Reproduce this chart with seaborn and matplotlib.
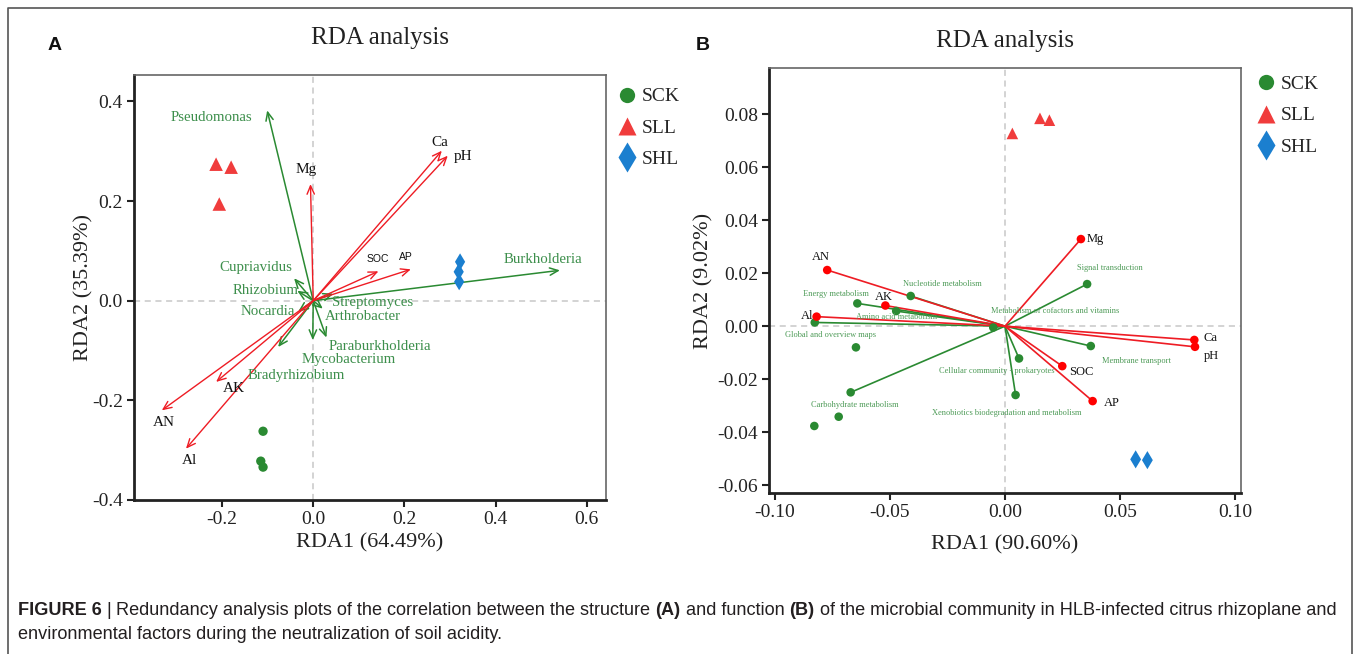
import numpy as np
import pandas as pd
import matplotlib
matplotlib.use("Agg")
import matplotlib.pyplot as plt
import seaborn as sns
from matplotlib.lines import Line2D
from matplotlib import font_manager

# ---------------- data ----------------
groups = ["SCK", "SLL", "SHL"]

# Panel A (community structure)
a_samp_group = ["SCK"] * 3 + ["SLL"] * 3 + ["SHL"] * 3
a_samp_x = [-0.110, -0.115, -0.110, -0.213, -0.180, -0.206, 0.322, 0.319, 0.320]
a_samp_y = [-0.262, -0.322, -0.334, 0.274, 0.268, 0.194, 0.078, 0.058, 0.038]

a_env_names = ["Ca", "pH", "Mg", "SOC", "AP", "AN", "AK", "Al"]
a_env_x = [0.282, 0.295, -0.006, 0.143, 0.214, -0.332, -0.213, -0.279]
a_env_y = [0.301, 0.291, 0.234, 0.059, 0.063, -0.220, -0.163, -0.297]

a_taxa_names = ["Pseudomonas", "Cupriavidus", "Rhizobium", "Nocardia", "Bradyrhizobium",
                "Mycobacterium", "Paraburkholderia", "Arthrobacter", "Streptomyces", "Burkholderia"]
a_taxa_x = [-0.101, -0.042, -0.035, -0.033, -0.077, -0.001, 0.029, 0.021, 0.044, 0.541]
a_taxa_y = [0.382, 0.045, 0.020, -0.022, -0.093, -0.079, -0.074, -0.016, 0.014, 0.061]

# Panel B (community function)
b_samp_group = ["SCK"] * 3 + ["SLL"] * 3 + ["SHL"] * 2
b_samp_x = [-0.0648, -0.0723, -0.0829, 0.0032, 0.0152, 0.0193, 0.0568, 0.0619]
b_samp_y = [-0.0080, -0.0342, -0.0377, 0.0728, 0.0785, 0.0778, -0.0503, -0.0506]

b_env_names = ["AN", "AK", "Al", "Mg", "SOC", "AP", "Ca", "pH"]
b_env_x = [-0.0773, -0.0520, -0.0819, 0.0330, 0.0249, 0.0381, 0.0823, 0.0826]
b_env_y = [0.0212, 0.0078, 0.0036, 0.0329, -0.0151, -0.0283, -0.0052, -0.0078]

b_func_names = ["Nucleotide metabolism", "Energy metabolism", "Amino acid metabolism",
                "Global and overview maps", "Carbohydrate metabolism",
                "Metabolism of cofactors and vitamins", "Signal transduction",
                "Membrane transport", "Cellular community - prokaryotes",
                "Xenobiotics biodegradation and metabolism"]
b_func_x = [-0.0410, -0.0642, -0.0473, -0.0827, -0.0671, -0.0051, 0.0357, 0.0373, 0.0061, 0.0046]
b_func_y = [0.0114, 0.0086, 0.0057, 0.0014, -0.0250, -0.0005, 0.0159, -0.0075, -0.0122, -0.0260]

# ---------------- layout / style ----------------
W, H = 1358, 654
SERIF = "Liberation Serif"
SANS = "Liberation Sans"
RED = "#ee1c24"
GREEN = "#2a8a32"
TXT_GREEN = "#3d8f4c"
palette = {"SCK": "#2a8a32", "SLL": "#f03c3c", "SHL": "#1b7fcf"}
markers = {"SCK": "o", "SLL": "^", "SHL": "d"}

# label offsets in pixels (dx, dy; dy positive = up)
a_env_off = {"Ca": (-2, 8), "pH": (15, -1), "Mg": (-4, 15), "SOC": (-1, 12), "AP": (-5, 12),
             "AN": (2, -12), "AK": (18, -7), "Al": (3, -12)}
a_taxa_off = {"Pseudomonas": (-56, -7), "Cupriavidus": (-38, 11), "Rhizobium": (-32, 0),
              "Nocardia": (-30, 0), "Bradyrhizobium": (18, -28), "Mycobacterium": (36, -19),
              "Paraburkholderia": (53, -9), "Arthrobacter": (40, -8), "Streptomyces": (39, -9),
              "Burkholderia": (-17, 11)}
b_env_off = {"AN": (-6, 13), "AK": (-2, 9), "Al": (-9, 1), "Mg": (14, 0), "SOC": (19, -6),
             "AP": (19, -2), "Ca": (16, 2), "pH": (16, -9)}
b_func_off = {"Nucleotide metabolism": (32, 12), "Energy metabolism": (-21, 9),
              "Amino acid metabolism": (0, -6), "Global and overview maps": (16, -13),
              "Carbohydrate metabolism": (4, -13),
              "Metabolism of cofactors and vitamins": (62, 16),
              "Signal transduction": (23, 16), "Membrane transport": (46, -15),
              "Cellular community - prokaryotes": (-22, -13),
              "Xenobiotics biodegradation and metabolism": (-9, -18)}

sns.set_theme(style="ticks")
plt.rcParams["font.family"] = [SERIF, "DejaVu Serif"]

fig = plt.figure(figsize=(W / 100, H / 100), dpi=100)
fig.patch.set_facecolor("white")


def px_axes(l, t, r, b):
    return fig.add_axes([l / W, 1 - b / H, (r - l) / W, (b - t) / H])


axA = px_axes(134, 75, 606, 500)
axB = px_axes(769, 68.3, 1241, 492.7)


def style_axes(ax):
    for s in ["left", "bottom"]:
        ax.spines[s].set_linewidth(2.0)
        ax.spines[s].set_color("#222222")
    for s in ["top", "right"]:
        ax.spines[s].set_visible(True)
        ax.spines[s].set_linewidth(1.2)
        ax.spines[s].set_color("#666666")
    ax.tick_params(direction="out", length=5, width=1.5, labelsize=14, pad=3,
                   colors="#222222", top=False, right=False)
    for lab in ax.get_xticklabels() + ax.get_yticklabels():
        lab.set_fontfamily(SERIF)
    ax.axhline(0, color="#c8c8c8", lw=1.1, ls=(0, (4, 3)), zorder=0)
    ax.axvline(0, color="#c8c8c8", lw=1.1, ls=(0, (4, 3)), zorder=0)
    ax.grid(False)


# ---------------- Panel A ----------------
dfA = pd.DataFrame({"x": a_samp_x, "y": a_samp_y, "group": a_samp_group})
arrow_style = "->,head_length=0.5,head_width=0.22"
for n, x, y in zip(a_taxa_names, a_taxa_x, a_taxa_y):
    axA.annotate("", xy=(x, y), xytext=(0, 0),
                 arrowprops=dict(arrowstyle=arrow_style, color=GREEN, lw=1.1,
                                 shrinkA=0, shrinkB=0), zorder=3)
for n, x, y in zip(a_env_names, a_env_x, a_env_y):
    axA.annotate("", xy=(x, y), xytext=(0, 0),
                 arrowprops=dict(arrowstyle=arrow_style, color=RED, lw=1.0,
                                 shrinkA=0, shrinkB=0), zorder=3)
sns.scatterplot(data=dfA, x="x", y="y", hue="group", style="group", size="group",
                palette=palette, markers=markers,
                sizes={"SCK": 45, "SLL": 95, "SHL": 75},
                edgecolor="none", legend=False, ax=axA, zorder=4)
for n, x, y in zip(a_taxa_names, a_taxa_x, a_taxa_y):
    dx, dy = a_taxa_off[n]
    axA.annotate(n, xy=(x, y), xytext=(dx, dy), textcoords="offset pixels",
                 ha="center", va="center", fontsize=10.7, color=TXT_GREEN,
                 family=SERIF, zorder=5)
for n, x, y in zip(a_env_names, a_env_x, a_env_y):
    dx, dy = a_env_off[n]
    fam = SANS if n in ("SOC", "AP") else SERIF
    fs = 7.5 if n in ("SOC", "AP") else 11
    axA.annotate(n, xy=(x, y), xytext=(dx, dy), textcoords="offset pixels",
                 ha="center", va="center", fontsize=fs, color="#111111",
                 family=fam, zorder=5)

axA.set_xlim(-0.393, 0.642)
axA.set_ylim(-0.4, 0.453)
axA.set_xticks([-0.2, 0.0, 0.2, 0.4, 0.6])
axA.set_xticklabels(["-0.2", "0.0", "0.2", "0.4", "0.6"])
axA.set_yticks([-0.4, -0.2, 0.0, 0.2, 0.4])
axA.set_yticklabels(["-0.4", "-0.2", "0.0", "0.2", "0.4"])
style_axes(axA)
axA.set_xlabel("RDA1 (64.49%)", fontsize=16, family=SERIF, color="#222222")
axA.set_ylabel("RDA2 (35.39%)", fontsize=16, family=SERIF, color="#222222")
axA.xaxis.set_label_coords(0.5, -0.078)
axA.yaxis.set_label_coords(-0.085, 0.5)
axA.set_title("RDA analysis", fontsize=18, family=SERIF, color="#222222",
              pad=0, x=0.521, y=1.073)

# ---------------- Panel B ----------------
dfB = pd.DataFrame({"x": b_samp_x, "y": b_samp_y, "group": b_samp_group})
for x, y in zip(b_func_x, b_func_y):
    axB.plot([0, x], [0, y], color=GREEN, lw=1.2, zorder=2)
for x, y in zip(b_env_x, b_env_y):
    axB.plot([0, x], [0, y], color=RED, lw=1.2, zorder=2)
sns.scatterplot(x=b_func_x, y=b_func_y, color=GREEN, s=38, edgecolor="none",
                legend=False, ax=axB, zorder=3)
sns.scatterplot(x=b_env_x, y=b_env_y, color="#ff0000", s=38, edgecolor="none",
                legend=False, ax=axB, zorder=3)
sns.scatterplot(data=dfB, x="x", y="y", hue="group", style="group", size="group",
                palette=palette, markers=markers,
                sizes={"SCK": 38, "SLL": 70, "SHL": 85},
                edgecolor="none", legend=False, ax=axB, zorder=4)
for n, x, y in zip(b_func_names, b_func_x, b_func_y):
    dx, dy = b_func_off[n]
    axB.annotate(n, xy=(x, y), xytext=(dx, dy), textcoords="offset pixels",
                 ha="center", va="center", fontsize=6, color="#4c9a56",
                 family=SERIF, zorder=5)
for n, x, y in zip(b_env_names, b_env_x, b_env_y):
    dx, dy = b_env_off[n]
    axB.annotate(n, xy=(x, y), xytext=(dx, dy), textcoords="offset pixels",
                 ha="center", va="center", fontsize=9, color="#111111",
                 family=SERIF, zorder=5)

axB.set_xlim(-0.1026, 0.1026)
axB.set_ylim(-0.0629, 0.0974)
axB.set_xticks([-0.10, -0.05, 0.0, 0.05, 0.10])
axB.set_xticklabels(["-0.10", "-0.05", "0.00", "0.05", "0.10"])
axB.set_yticks([-0.06, -0.04, -0.02, 0.0, 0.02, 0.04, 0.06, 0.08])
axB.set_yticklabels(["-0.06", "-0.04", "-0.02", "0.00", "0.02", "0.04", "0.06", "0.08"])
style_axes(axB)
axB.set_xlabel("RDA1 (90.60%)", fontsize=16, family=SERIF, color="#222222")
axB.set_ylabel("RDA2 (9.02%)", fontsize=16, family=SERIF, color="#222222")
axB.xaxis.set_label_coords(0.5, -0.1)
axB.yaxis.set_label_coords(-0.118, 0.5)
axB.set_title("RDA analysis", fontsize=18, family=SERIF, color="#222222",
              pad=0, x=0.5, y=1.05)

# ---------------- legends ----------------
def make_handles():
    hs = []
    for g in groups:
        ms = {"SCK": 11, "SLL": 13, "SHL": 15}[g]
        hs.append(Line2D([], [], marker=markers[g], color="none", markerfacecolor=palette[g],
                         markeredgecolor="none", markersize=ms, label=g))
    return hs


for ax, anchor in [(axA, (1.024, 0.970)), (axB, (1.032, 0.983))]:
    ax.legend(handles=make_handles(), loc="upper left", bbox_to_anchor=anchor,
              frameon=False, borderpad=0, borderaxespad=0, handlelength=1.0,
              handletextpad=0.25, labelspacing=0.70,
              prop={"family": SERIF, "size": 14})

# ---------------- panel letters ----------------
fig.text(55 / W, 1 - 46 / H, "A", fontsize=14, fontweight="bold", family=SANS,
         ha="center", va="center", color="#111111")
fig.text(703 / W, 1 - 46 / H, "B", fontsize=14, fontweight="bold", family=SANS,
         ha="center", va="center", color="#111111")

# ---------------- border ----------------
fig.add_artist(Line2D([8 / W, 8 / W, 1352 / W, 1352 / W], [0, 1 - 8 / H, 1 - 8 / H, 0],
                      transform=fig.transFigure, color="#555555", lw=1.2))

# ---------------- caption ----------------
names = {f.name for f in font_manager.fontManager.ttflist}
cap_font = "Liberation Sans Narrow" if "Liberation Sans Narrow" in names else SANS
renderer = fig.canvas.get_renderer()

line1 = [("FIGURE 6", True), ("|", False),
         ("Redundancy analysis plots of the correlation between the structure", False),
         ("(A)", True), ("and function", False), ("(B)", True),
         ("of the microbial community in HLB-infected citrus rhizoplane and", False)]
line2 = [("environmental factors during the neutralization of soil acidity.", False)]


def measure(txt, bold, size):
    t = fig.text(0, 0, txt, fontsize=size, fontweight="bold" if bold else "normal",
                 family=cap_font)
    w = t.get_window_extent(renderer).width
    t.remove()
    return w


def line_width(segs, size):
    sp = measure("a a", False, size) - measure("aa", False, size)
    return sum(measure(s, b, size) for s, b in segs) + sp * (len(segs) - 1), sp


w10, _ = line_width(line1, 10)
cap_size = 10 * (1327 / w10)


def draw_line(segs, x0, ybase, size):
    _, sp = line_width(segs, size)
    x = x0
    for s, b in segs:
        t = fig.text(x / W, 1 - ybase / H, s, fontsize=size,
                     fontweight="bold" if b else "normal", family=cap_font,
                     ha="left", va="baseline", color="#231f20")
        x += t.get_window_extent(renderer).width + sp


draw_line(line1, 18, 615, cap_size)
draw_line(line2, 18, 639, cap_size)

fig.savefig("out.png", dpi=100, facecolor="white")
